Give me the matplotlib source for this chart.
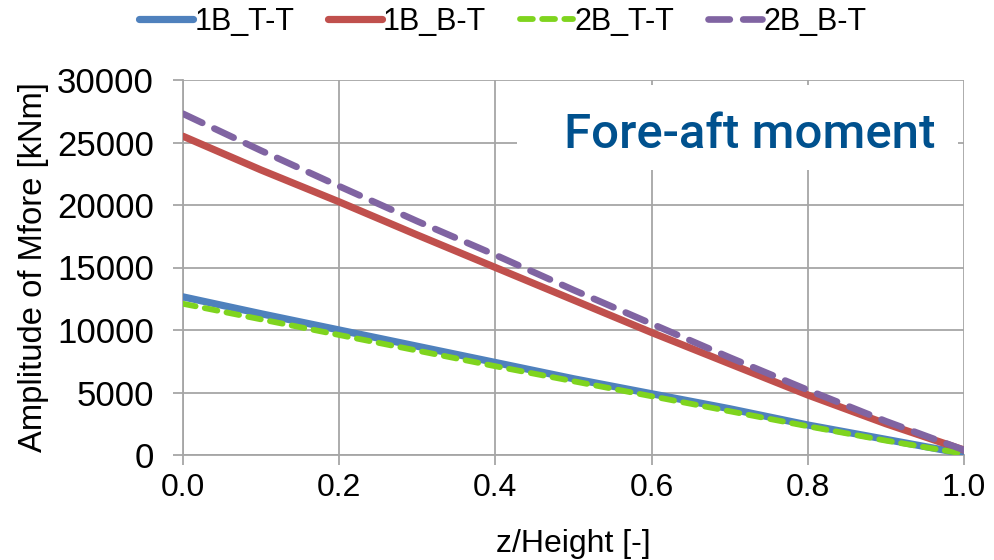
import matplotlib
matplotlib.use("Agg")
import matplotlib.pyplot as plt
from matplotlib.ticker import MultipleLocator
from matplotlib.patches import Rectangle

z = [0.0, 0.1, 0.2, 0.3, 0.4, 0.5, 0.6, 0.7, 0.8, 0.9, 1.0]
b1_tt = [12650, 11300, 10000, 8700, 7400, 6100, 4900, 3700, 2400, 1250, 100]
b1_bt = [25500, 22800, 20250, 17600, 15000, 12400, 9800, 7300, 4800, 2500, 400]
b2_tt = [12100, 10850, 9600, 8350, 7100, 5900, 4700, 3500, 2300, 1150, 100]
b2_bt = [27300, 24350, 21500, 18700, 16000, 13200, 10500, 7800, 5200, 2700, 400]
labels = ["1B_T-T", "1B_B-T", "2B_T-T", "2B_B-T"]
title = "Fore-aft moment"

FONT = ["Liberation Sans", "DejaVu Sans"]
plt.rcParams['font.family'] = FONT

fig = plt.figure(figsize=(9.94, 5.6), dpi=100)
ax = fig.add_axes([183/994, 105/560, 781/994, 375/560])

ax.plot(z, b1_tt, color="#4F81BD", lw=5.2, solid_capstyle="round", label=labels[0], zorder=3)
ax.plot(z, b1_bt, color="#C0504D", lw=5.2, solid_capstyle="round", label=labels[1], zorder=3)
ax.plot(z, b2_tt, color="#7FD41E", lw=4.2, dashes=(2.2, 1.6), dash_capstyle="round", label=labels[2], zorder=4)
ax.plot(z, b2_bt, color="#8064A2", lw=4.8, dashes=(3.2, 2.0), dash_capstyle="round", label=labels[3], zorder=4)

ax.set_xlim(0, 1.0)
ax.set_ylim(0, 30000)
ax.xaxis.set_major_locator(MultipleLocator(0.2))
ax.yaxis.set_major_locator(MultipleLocator(5000))
ax.xaxis.set_major_formatter(matplotlib.ticker.FormatStrFormatter('%.1f'))
ax.grid(True, color="#A6A6A6", lw=1.3, zorder=0)
ax.set_axisbelow(True)
for s in ["top", "right"]:
    ax.spines[s].set_visible(False)
for s in ["left", "bottom"]:
    ax.spines[s].set_color("#A6A6A6")
    ax.spines[s].set_linewidth(1.3)
ax.tick_params(axis="both", length=7, width=1.3, color="#A6A6A6", labelcolor="black")
ax.tick_params(axis="x", pad=6, labelsize=23)
ax.tick_params(axis="y", pad=14, labelsize=25)

ax.set_xlabel("z/Height [-]", fontsize=23, labelpad=19)
ax.set_ylabel("Amplitude of Mfore [kNm]", fontsize=23.6, labelpad=6)

ax.add_patch(Rectangle((0.428, 22800), 0.564, 6800, facecolor="white", edgecolor="none", zorder=2))
ax.text(0.7256, 24560, title, fontsize=35.5, color="#00518E", family=["Roboto", "Open Sans", "DejaVu Sans"],
        fontweight=500, ha="center", va="baseline", zorder=5)

fig.legend(loc="center", bbox_to_anchor=(503/994, 1 - 22/560), ncol=4, frameon=False,
           handlelength=1.75, handletextpad=0.05, columnspacing=1.1,
           prop={"size": 22})

fig.savefig("out.png", dpi=100)
